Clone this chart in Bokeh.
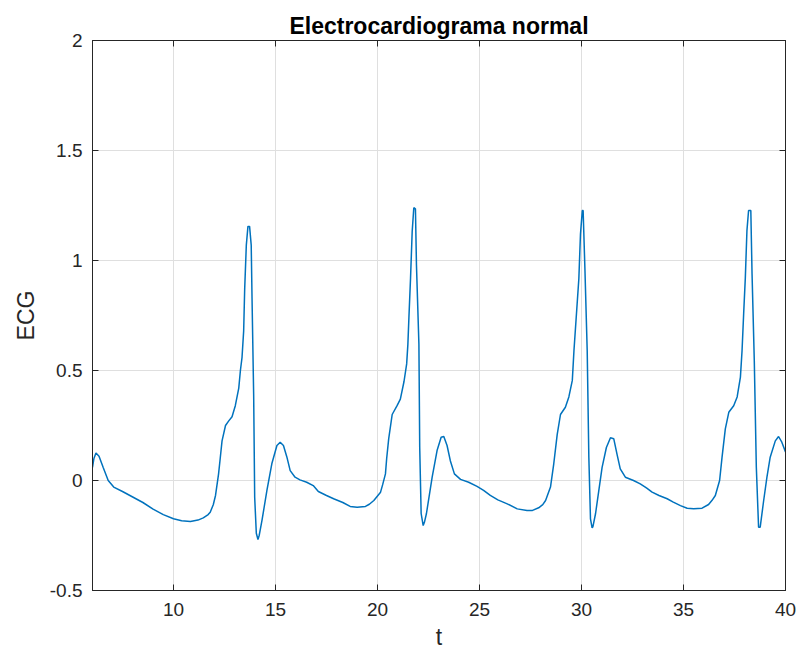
from bokeh.plotting import figure
from bokeh.models import Range1d, FixedTicker, LinearAxis
from bokeh.embed import file_html
from bokeh.resources import INLINE

# ECG trace
t = [6.03, 6.1, 6.2, 6.35, 6.55, 6.8, 7.07, 7.5, 8.0, 8.5, 9.0, 9.5, 10.0, 10.4, 10.83,
     11.2, 11.46, 11.7, 11.8, 11.95, 12.06, 12.21, 12.29, 12.38, 12.55, 12.7, 12.87, 13.03,
     13.2, 13.28, 13.36, 13.44, 13.49, 13.57, 13.65, 13.73, 13.81, 13.85, 13.93, 13.98,
     14.06, 14.14, 14.2, 14.34, 14.58, 14.82, 15.07, 15.23, 15.39, 15.56, 15.72, 15.96,
     16.2, 16.53, 16.85, 17.1, 17.5, 17.85, 18.3, 18.66, 19.0, 19.41, 19.6, 19.82, 20.15,
     20.25, 20.39, 20.45, 20.55, 20.72, 20.96, 21.12, 21.3, 21.43, 21.49, 21.54, 21.62,
     21.7, 21.78, 21.86, 21.91, 22.03, 22.07, 22.14, 22.24, 22.3, 22.4, 22.68, 22.92,
     23.12, 23.25, 23.41, 23.57, 23.77, 24.07, 24.47, 24.88, 25.2, 25.53, 25.9, 26.36,
     26.85, 27.33, 27.6, 27.9, 28.1, 28.24, 28.48, 28.64, 28.81, 28.97, 29.21, 29.38,
     29.55, 29.63, 29.74, 29.87, 29.95, 30.04, 30.08, 30.17, 30.28, 30.36, 30.44, 30.52,
     30.56, 30.69, 30.85, 31.01, 31.22, 31.42, 31.58, 31.74, 31.9, 32.15, 32.55, 32.88,
     33.2, 33.46, 33.8, 34.2, 34.5, 34.85, 35.18, 35.5, 35.91, 36.23, 36.4, 36.56, 36.77,
     36.89, 37.05, 37.22, 37.46, 37.63, 37.79, 37.87, 37.95, 38.03, 38.11, 38.19, 38.3,
     38.36, 38.47, 38.57, 38.68, 38.76, 38.93, 39.09, 39.25, 39.5, 39.66, 39.82, 40.0]
ecg = [0.06, 0.10, 0.125, 0.11, 0.06, 0.0, -0.03, -0.05, -0.075, -0.10, -0.13, -0.155,
       -0.174, -0.183, -0.186, -0.18, -0.17, -0.155, -0.144, -0.11, -0.068, 0.03, 0.10,
       0.18, 0.25, 0.27, 0.29, 0.34, 0.42, 0.50, 0.56, 0.68, 0.87, 1.07, 1.155, 1.155, 1.07,
       0.83, 0.39, -0.076, -0.24, -0.268, -0.25, -0.18, -0.045, 0.076, 0.159, 0.174, 0.159,
       0.106, 0.045, 0.015, 0.003, -0.008, -0.023, -0.05, -0.068, -0.083, -0.10, -0.118,
       -0.122, -0.118, -0.108, -0.091, -0.053, -0.02, 0.03, 0.10, 0.19, 0.30, 0.34, 0.37,
       0.45, 0.53, 0.62, 0.74, 0.92, 1.13, 1.24, 1.235, 0.98, 0.62, 0.15, -0.15, -0.205,
       -0.19, -0.15, 0.015, 0.136, 0.197, 0.20, 0.159, 0.09, 0.03, 0.005, -0.008, -0.027,
       -0.045, -0.068, -0.088, -0.106, -0.129, -0.136, -0.136, -0.124, -0.11, -0.091, -0.03,
       0.076, 0.21, 0.30, 0.333, 0.38, 0.455, 0.59, 0.74, 0.917, 1.12, 1.227, 1.227, 0.955,
       0.59, 0.106, -0.174, -0.215, -0.21, -0.15, -0.045, 0.06, 0.15, 0.194, 0.19, 0.12,
       0.053, 0.015, 0.0, -0.015, -0.035, -0.053, -0.068, -0.083, -0.098, -0.114, -0.126,
       -0.128, -0.126, -0.109, -0.09, -0.068, 0.0, 0.106, 0.235, 0.31, 0.34, 0.38, 0.47,
       0.59, 0.76, 0.92, 1.136, 1.227, 1.227, 0.94, 0.545, 0.06, -0.212, -0.212, -0.091,
       0.015, 0.106, 0.18, 0.20, 0.174, 0.13]

x_ticks = [10, 15, 20, 25, 30, 35, 40]
y_ticks = [-0.5, 0, 0.5, 1, 1.5, 2]
y_tick_labels = ["-0.5", "0", "0.5", "1", "1.5", "2"]

FONT = "Liberation Sans"
DARK = "#262626"
GRID = "#dfdfdf"

p = figure(width=800, height=656, output_backend="svg", toolbar_location=None,
           x_range=Range1d(6.03, 40), y_range=Range1d(-0.5, 2),
           min_border_left=92, min_border_right=15, min_border_top=40, min_border_bottom=66)
p.background_fill_color = "white"
p.border_fill_color = "white"
p.outline_line_color = DARK
p.outline_line_width = 1

p.title.text = "Electrocardiograma normal"
p.title.text_font = FONT
p.title.text_font_size = "23px"
p.title.text_font_style = "bold"
p.title.text_color = "black"
p.title.align = "center"
p.title.standoff = 3

p.line(t, ecg, line_color="#0072BD", line_width=1.5)

p.xgrid.grid_line_color = GRID
p.ygrid.grid_line_color = GRID
p.xgrid.ticker = FixedTicker(ticks=x_ticks)
p.ygrid.ticker = FixedTicker(ticks=y_ticks)

xa = p.xaxis[0]
xa.ticker = FixedTicker(ticks=x_ticks)
xa.axis_label = "t"
ya = p.yaxis[0]
ya.ticker = FixedTicker(ticks=y_ticks)
ya.major_label_overrides = {v: s for v, s in zip(y_ticks, y_tick_labels)}
ya.axis_label = "ECG"

for ax in (xa, ya):
    ax.axis_line_color = DARK
    ax.major_tick_line_color = DARK
    ax.major_tick_in = 6
    ax.major_tick_out = 0
    ax.minor_tick_line_color = None
    ax.major_label_text_font = FONT
    ax.major_label_text_font_size = "19px"
    ax.major_label_text_color = DARK
    ax.axis_label_text_font = FONT
    ax.axis_label_text_font_size = "23px"
    ax.axis_label_text_font_style = "normal"
    ax.axis_label_text_color = DARK
xa.major_label_standoff = 12
xa.axis_label_standoff = 5
ya.major_label_standoff = 10
ya.axis_label_standoff = 8

top = LinearAxis(ticker=FixedTicker(ticks=x_ticks))
right = LinearAxis(ticker=FixedTicker(ticks=y_ticks))
top.major_label_overrides = {v: "" for v in x_ticks}
right.major_label_overrides = {v: "" for v in y_ticks}
for ax in (top, right):
    ax.axis_line_color = DARK
    ax.major_tick_line_color = DARK
    ax.major_tick_in = 6
    ax.major_tick_out = 0
    ax.minor_tick_line_color = None
    ax.major_label_standoff = 0
p.add_layout(top, "above")
p.add_layout(right, "right")

open("out.html", "w").write(file_html(p, INLINE))
